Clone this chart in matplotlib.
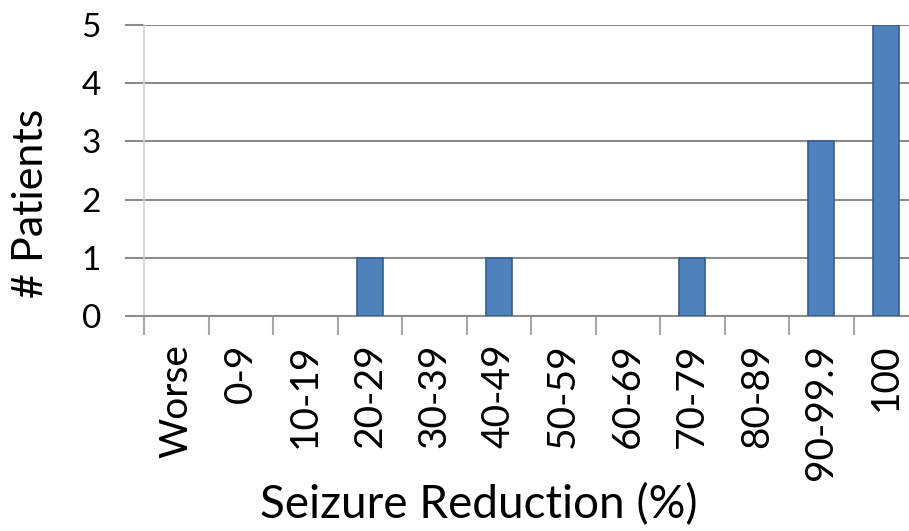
import numpy as np
import matplotlib
matplotlib.use("Agg")
import matplotlib.pyplot as plt

categories = ["Worse", "0-9", "10-19", "20-29", "30-39", "40-49", "50-59",
              "60-69", "70-79", "80-89", "90-99.9", "100"]
patients = [0, 0, 0, 1, 0, 1, 0, 0, 1, 0, 3, 5]

plt.rcParams['font.family'] = ['Lato', 'DejaVu Sans']

fig = plt.figure(figsize=(9.09, 5.31), dpi=100)
# right edge of the plot area is cut off in the reference
ax = fig.add_axes([144 / 909, 1 - 316 / 531, 774 / 909, (316 - 25) / 531])

x = np.arange(len(categories))
edges = ["#385D8A" if p > 0 else "none" for p in patients]
ax.bar(x, patients, width=0.4, color="#4F81BD", edgecolor=edges, linewidth=1.2, zorder=3)

ax.set_xlim(-0.5, len(categories) - 0.5)
ax.set_ylim(0, 5)
ax.set_yticks(range(6))
ax.yaxis.grid(True, color="#8C8C8C", linewidth=1.5, zorder=0)
ax.tick_params(axis="y", length=14, width=1.5, color="#8C8C8C", labelsize=24, pad=17)

ax.set_xticks(x)
ax.set_xticklabels(categories, rotation=90, fontsize=28)
ax.set_xticks(np.arange(len(categories)) - 0.5, minor=True)
ax.tick_params(axis="x", which="major", length=0, pad=20)
ax.tick_params(axis="x", which="minor", length=14, width=1.5, color="#A8A8A8")

for s in ["top", "right"]:
    ax.spines[s].set_visible(False)
ax.spines["left"].set_color("#D0D0D0")
ax.spines["left"].set_linewidth(1.2)
ax.spines["bottom"].set_color("#8C8C8C")
ax.spines["bottom"].set_linewidth(1.5)

ax.set_xlabel("Seizure Reduction (%)", fontsize=33)
ax.set_ylabel("# Patients", fontsize=31)
ax.xaxis.set_label_coords((479 - 144) / 774, -(483 - 316) / 291)
ax.yaxis.set_label_coords((50 - 144) / 774, (316 - 203) / 291)

fig.savefig("out.png", dpi=100)
